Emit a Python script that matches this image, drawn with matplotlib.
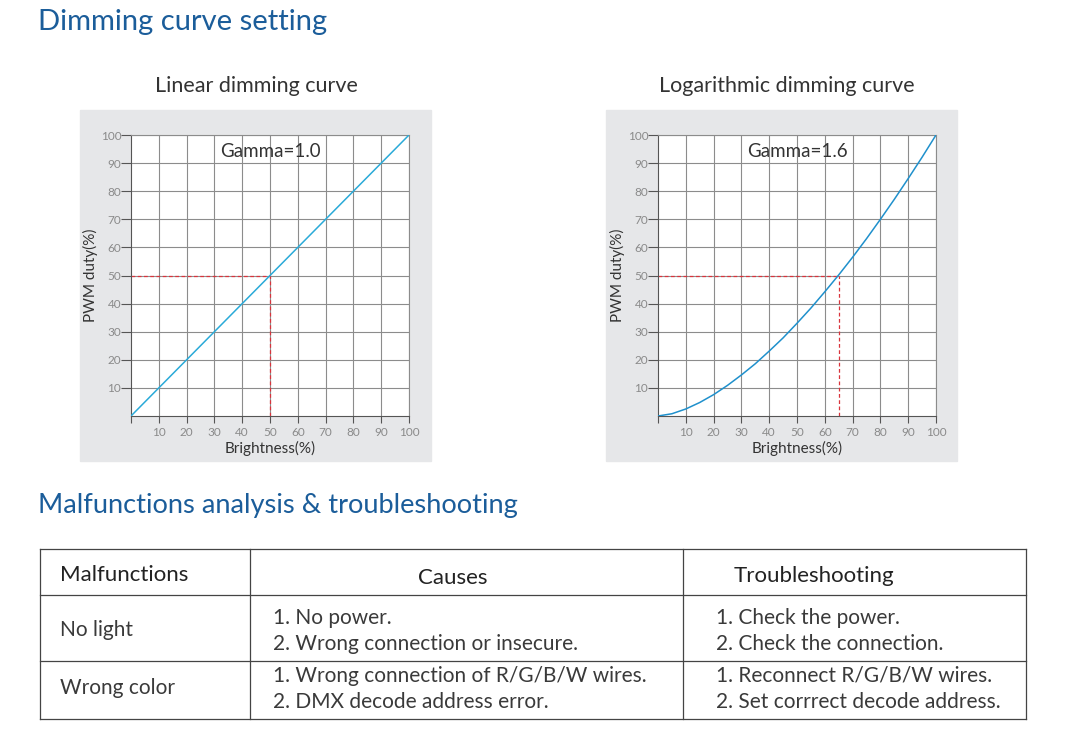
import matplotlib.pyplot as plt
from matplotlib.patches import Rectangle

plt.rcParams['font.family'] = ['Lato', 'DejaVu Sans']

W, H = 1072, 740

# data
brightness = [0, 5, 10, 15, 20, 25, 30, 35, 40, 45, 50, 55, 60, 65, 70, 75, 80, 85, 90, 95, 100]
linear_duty = [0, 5, 10, 15, 20, 25, 30, 35, 40, 45, 50, 55, 60, 65, 70, 75, 80, 85, 90, 95, 100]
log_duty = [0, 0.8, 2.5, 4.8, 7.6, 10.9, 14.6, 18.6, 23.1, 27.8, 33.0, 38.4, 44.2, 50.2,
            56.5, 63.1, 70.0, 77.1, 84.5, 92.1, 100]
ticks = [10, 20, 30, 40, 50, 60, 70, 80, 90, 100]
marker_linear = (50, 50)
marker_log = (65, 50)

table_header = ['Malfunctions', 'Causes', 'Troubleshooting']
table_rows = [
    ['No light', ['1. No power.', '2. Wrong connection or insecure.'],
     ['1. Check the power.', '2. Check the connection.']],
    ['Wrong color', ['1. Wrong connection of R/G/B/W wires.', '2. DMX decode address error.'],
     ['1. Reconnect R/G/B/W wires.', '2. Set corrrect decode address.']],
]

blue = '#1b5d9a'
dark = '#333333'

fig = plt.figure(figsize=(W / 100, H / 100), dpi=100)
page = fig.add_axes([0, 0, 1, 1])
page.set_xlim(0, W)
page.set_ylim(H, 0)
page.axis('off')

page.text(38, 22, 'Dimming curve setting', color=blue, fontsize=21, va='center', ha='left')
page.text(38, 506, 'Malfunctions analysis & troubleshooting', color=blue, fontsize=19.6,
          va='center', ha='left')
page.text(256, 86, 'Linear dimming curve', color=dark, fontsize=15.5, ha='center', va='center')
page.text(787, 86, 'Logarithmic dimming curve', color=dark, fontsize=15.5, ha='center', va='center')

# grey panels
for x0 in (80, 606):
    page.add_patch(Rectangle((x0, 110), 351, 351, color='#e6e7e9', zorder=0))


def make_chart(left, duty, marker, gamma, color):
    x0, x1, y0, y1 = left, left + 278, 135, 416
    ax = fig.add_axes([x0 / W, 1 - y1 / H, (x1 - x0) / W, (y1 - y0) / H])
    ax.set_facecolor('white')
    ax.set_xlim(0, 100)
    ax.set_ylim(0, 100)
    ax.set_xticks(ticks)
    ax.set_yticks(ticks)
    ax.grid(True, color='#8c8c8c', linewidth=0.8)
    for s in ax.spines.values():
        s.set_color('#8c8c8c')
        s.set_linewidth(0.8)
    ax.spines['left'].set_color('#555555')
    ax.spines['bottom'].set_color('#555555')
    ax.tick_params(axis='both', colors='#555555', labelcolor='#8a8a8a', labelsize=8.5,
                   width=0.8)
    ax.tick_params(axis='y', length=7, pad=0)
    ax.tick_params(axis='x', length=5, pad=3)
    ax.set_xticks([0], minor=True)
    ax.tick_params(axis='x', which='minor', length=5, color='#555555', width=0.8)
    ax.plot(brightness, duty, color=color, linewidth=1.1, zorder=3)
    mx, my = marker
    ax.plot([0, mx], [my, my], color='#d9343c', linestyle=(0, (3, 2)), linewidth=0.9, zorder=2)
    ax.plot([mx, mx], [0, my], color='#d9343c', linestyle=(0, (3, 2)), linewidth=0.9, zorder=2)
    ax.text(50, 94, f'Gamma={gamma}', ha='center', va='center', fontsize=13.5, color=dark)
    ax.set_xlabel('Brightness(%)', fontsize=11, color=dark, labelpad=2)
    ax.set_ylabel('PWM duty(%)', fontsize=11, color=dark, labelpad=2)
    return ax


make_chart(131, linear_duty, marker_linear, '1.0', '#2aaad8')
make_chart(658, log_duty, marker_log, '1.6', '#1f90cc')

# table
lc = '#444444'
tx0, tx1 = 40, 1026
rows_y = [549, 595, 661, 719]
cols_x = [40, 250, 683, 1026]
for y in rows_y:
    page.plot([tx0, tx1], [y, y], color=lc, linewidth=0.9)
for x in cols_x:
    page.plot([x, x], [rows_y[0], rows_y[-1]], color=lc, linewidth=0.9)

page.text(60, 575, table_header[0], fontsize=16, color='#222222', va='center', ha='left')
page.text(453, 578, table_header[1], fontsize=16, color='#222222', va='center', ha='center')
page.text(734, 576, table_header[2], fontsize=16, color='#222222', va='center', ha='left')

row_mid = [630, 688]
line_y = [(618, 644), (676, 702)]
for (name, causes, fixes), ym, (ya, yb) in zip(table_rows, row_mid, line_y):
    page.text(60, ym, name, fontsize=15, color='#3a3a3a', va='center', ha='left')
    for t, y in zip(causes, (ya, yb)):
        page.text(273, y, t, fontsize=15, color='#3a3a3a', va='center', ha='left')
    for t, y in zip(fixes, (ya, yb)):
        page.text(716, y, t, fontsize=15, color='#3a3a3a', va='center', ha='left')

fig.savefig('out.png', dpi=100)
